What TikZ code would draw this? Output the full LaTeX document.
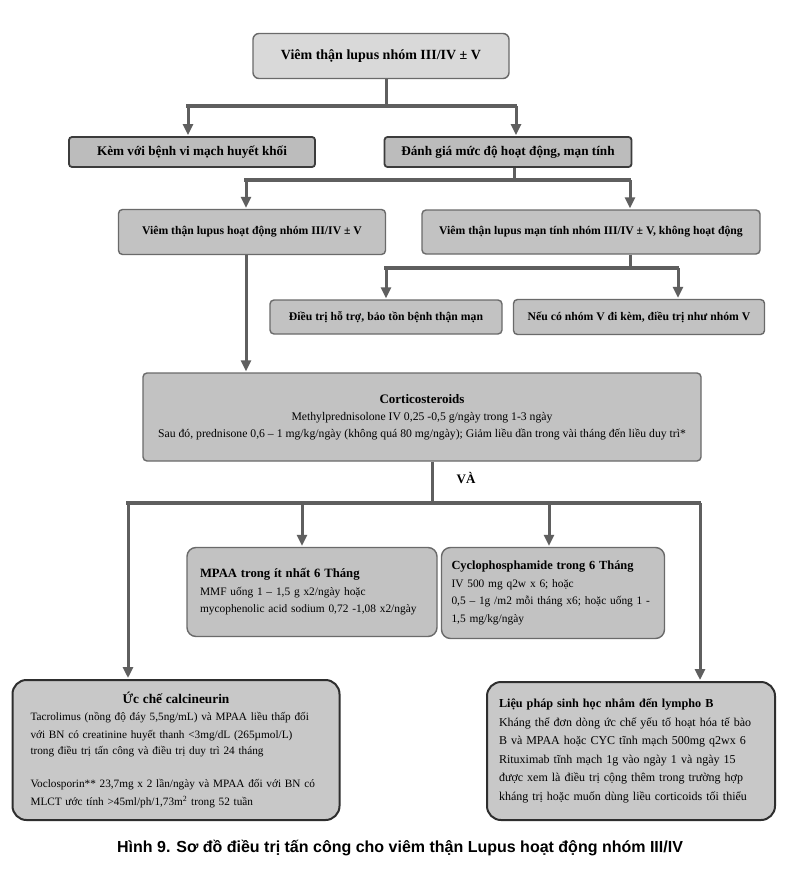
\documentclass[tikz,border=0pt]{standalone}
\usepackage{fontspec}
\setmainfont{Liberation Serif}
\newfontfamily\capfont{Liberation Sans}
\usetikzlibrary{shapes,arrows.meta}

\definecolor{linegray}{HTML}{5F5F5F}
\definecolor{paleone}{HTML}{D9D9D9}
\definecolor{midgray}{HTML}{BCBCBC}
\definecolor{boxgray}{HTML}{C2C2C2}
\definecolor{lowgray}{HTML}{C8C8C8}
\definecolor{edgegray}{HTML}{6A6A6A}
\definecolor{darkedge}{HTML}{3C3C3C}
\definecolor{blackedge}{HTML}{2E2E2E}

\begin{document}
\begin{tikzpicture}[x=1pt,y=-1pt,shorten >=1pt,>={Triangle[length=11pt,width=10pt]}]
\tikzstyle{box}=[rectangle,draw=edgegray,fill=boxgray,line width=1.4pt,rounded corners=4pt,inner sep=0pt,align=center]
\tikzstyle{pale}=[box,fill=paleone,rounded corners=6pt,font=\fontsize{14}{16}\selectfont\bfseries]
\tikzstyle{dark}=[box,fill=midgray,draw=darkedge,line width=1.8pt,rounded corners=3pt,font=\fontsize{13.2}{15}\selectfont\bfseries]
\tikzstyle{plain}=[box,font=\fontsize{11.7}{13}\selectfont\bfseries]
\tikzstyle{textbox}=[box,align=left,rounded corners=9pt,font=\fontsize{11.4}{17.5}\selectfont]
\tikzstyle{bigbox}=[box,align=left,fill=lowgray,draw=blackedge,line width=2pt,rounded corners=14pt]
\tikzstyle{link}=[draw=linegray,line width=3pt]
\tikzstyle{bar}=[link,line width=4.5pt,line cap=rect]

\path[use as bounding box,fill=white] (0,0) rectangle (798,872);

% boxes
\node[pale,minimum width=256pt,minimum height=45pt](top) at (381,56) {Viêm thận lupus nhóm III/IV ± V};
\node[dark,minimum width=246pt,minimum height=30pt](kem) at (192,152) {Kèm với bệnh vi mạch huyết khối};
\node[dark,minimum width=247pt,minimum height=30pt](danhgia) at (508,152) {Đánh giá mức độ hoạt động, mạn tính};
\node[plain,minimum width=267pt,minimum height=45pt](hoatdong) at (252,232) {Viêm thận lupus hoạt động nhóm III/IV ± V};
\node[plain,minimum width=338pt,minimum height=44pt](mantinh) at (591,232) {Viêm thận lupus mạn tính nhóm III/IV ± V, không hoạt động};
\node[plain,minimum width=232pt,minimum height=34pt](hotro) at (386,317) {Điều trị hỗ trợ, bảo tồn bệnh thận mạn};
\node[plain,minimum width=251pt,minimum height=35pt](neu) at (639,317) {Nếu có nhóm V đi kèm, điều trị như nhóm V};
\node[box,minimum width=558pt,minimum height=88pt,font=\fontsize{11.7}{17}\selectfont](cortico) at (422,417) {\textbf{\fontsize{13}{18}\selectfont Corticosteroids}\\
  Methylprednisolone IV 0,25 -0,5 g/ngày trong 1-3 ngày\\
  Sau đó, prednisone 0,6 – 1 mg/kg/ngày (không quá 80 mg/ngày); Giảm liều dần trong vài tháng đến liều duy trì*};
\node[font=\fontsize{13}{15}\selectfont\bfseries](va) at (466,478) {VÀ};
\node[textbox,inner xsep=13pt,text width=224pt,minimum height=89pt](mpaa) at (312,592) {\textbf{\fontsize{12.7}{17.5}\selectfont MPAA trong ít nhất 6 Tháng}\\
  MMF uống 1 – 1,5 g x2/ngày hoặc\\
  mycophenolic acid sodium 0,72 -1,08 x2/ngày};
\node[textbox,inner xsep=10pt,text width=203pt,minimum height=91pt](cyclo) at (553,593) {\textbf{\fontsize{12.4}{17.5}\selectfont Cyclophosphamide trong 6 Tháng}\\
  IV 500 mg q2w x 6; hoặc\\
  0,5 – 1g /m2 mỗi tháng x6; hoặc uống 1 -\\
  1,5 mg/kg/ngày};
\node[bigbox,inner xsep=18pt,text width=291pt,minimum height=140pt,font=\fontsize{11.25}{17}\selectfont](ucche) at (176,750) {\makebox[\linewidth][c]{\bfseries\fontsize{13.3}{17}\selectfont Ức chế calcineurin}\\
  Tacrolimus (nồng độ đáy 5,5ng/mL) và MPAA liều thấp đối\\
  với BN có creatinine huyết thanh <3mg/dL (265µmol/L)\\
  trong điều trị tấn công và điều trị duy trì 24 tháng\\[16pt]
  Voclosporin** 23,7mg x 2 lần/ngày và MPAA đối với BN có\\
  MLCT ước tính >45ml/ph/1,73m\textsuperscript{2} trong 52 tuần};
\node[bigbox,inner xsep=12pt,text width=264pt,minimum height=138pt,font=\fontsize{12}{18.5}\selectfont](lieuphap) at (631,751) {\textbf{\fontsize{12.2}{18.5}\selectfont Liệu pháp sinh học nhắm đến lympho B}\\
  Kháng thể đơn dòng ức chế yếu tố hoạt hóa tế bào\\
  B và MPAA hoặc CYC tĩnh mạch 500mg q2wx 6\\
  Rituximab tĩnh mạch 1g vào ngày 1 và ngày 15\\
  được xem là điều trị cộng thêm trong trường hợp\\
  kháng trị hoặc muốn dùng liều corticoids tối thiểu};
\node[font=\capfont\bfseries\fontsize{16}{19}\selectfont](caption) at (400,848) {Hình 9. Sơ đồ điều trị tấn công cho viêm thận Lupus hoạt động nhóm III/IV};

% junctions
\coordinate (j1) at (386,106);
\coordinate (j1L) at (188,106);
\coordinate (j1R) at (516,106);
\coordinate (j2) at (514,180);
\coordinate (j2L) at (246,180);
\coordinate (j2R) at (630,180);
\coordinate (j3) at (630,268);
\coordinate (j3L) at (386,268);
\coordinate (j3R) at (678,268);
\coordinate (j4) at (432,503);
\coordinate (j4L) at (128,503);
\coordinate (j4a) at (302,503);
\coordinate (j4b) at (549,503);
\coordinate (j4R) at (700,503);

% connectors
\draw[link] (top.south -| j1) -- (j1);
\draw[bar] (j1L) -- (j1R);
\draw[link,->] (j1L) -- (j1L |- kem.north);
\draw[link,->] (j1R) -- (j1R |- danhgia.north);
\draw[link] (danhgia.south -| j2) -- (j2);
\draw[bar] (j2L) -- (j2R);
\draw[link,->] (j2L) -- (j2L |- hoatdong.north);
\draw[link,->] (j2R) -- (j2R |- mantinh.north);
\draw[link] (mantinh.south -| j3) -- (j3);
\draw[bar] (j3L) -- (j3R);
\draw[link,->] (j3L) -- (j3L |- hotro.north);
\draw[link,->] (j3R) -- (j3R |- neu.north);
\draw[link,->] (hoatdong.south -| j2L) -- (j2L |- cortico.north);
\draw[link] (cortico.south -| j4) -- (j4);
\draw[bar] (j4L) -- (j4R);
\draw[link,->] (j4L) -- (j4L |- ucche.north);
\draw[link,->] (j4a) -- (j4a |- mpaa.north);
\draw[link,->] (j4b) -- (j4b |- cyclo.north);
\draw[link,->] (j4R) -- (j4R |- lieuphap.north);
\end{tikzpicture}
\end{document}
